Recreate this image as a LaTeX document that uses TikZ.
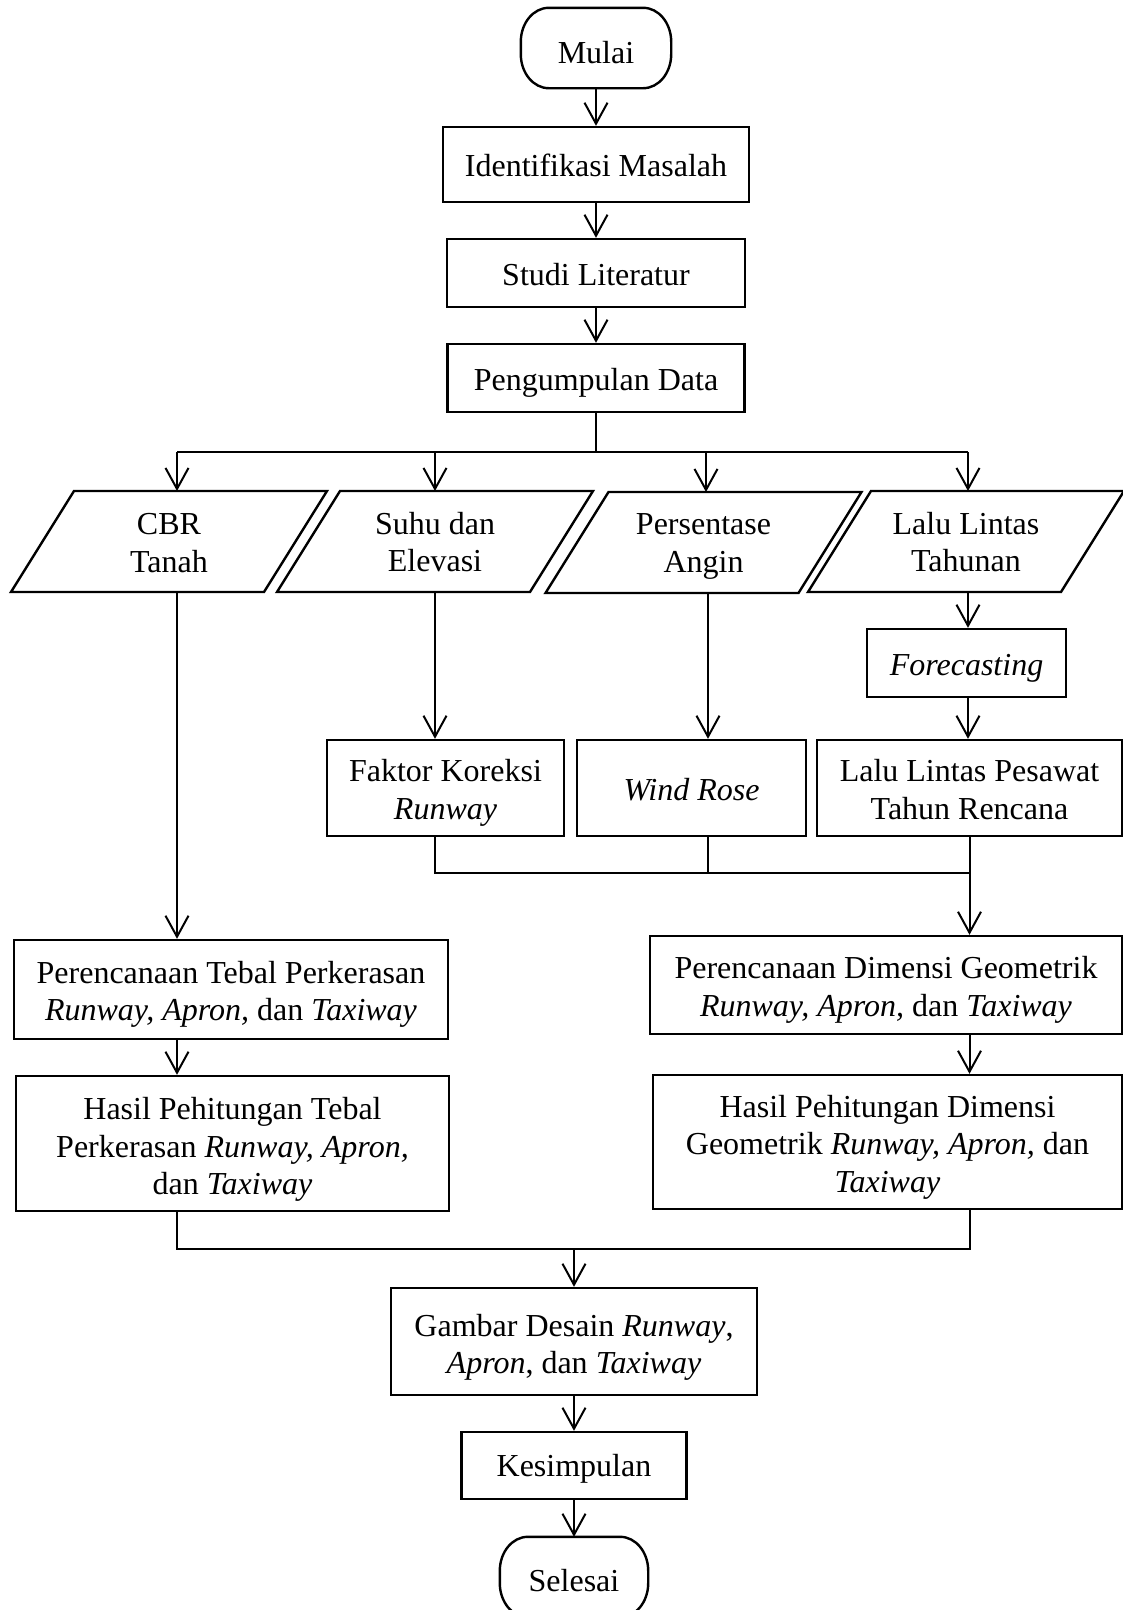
\documentclass[tikz,border=0pt]{standalone}
\usepackage{fontspec}
\setmainfont{Liberation Serif}
\usetikzlibrary{arrows.meta}
\newcommand\flowfont{\fontsize{32}{37.5}\selectfont}
% box node plus its text: style, name, x, y, width, height, text drop, text
\newcommand\flowbox[8]{%
  \node[#1,minimum width=#5pt,minimum height=#6pt] (#2) at (#3,#4) {};
  \node[txt] (#2-t) at ([yshift=-#7pt]#2.center) {#8};}
% start/end outline with elliptic corners
\newcommand\termoutline[1]{%
  \draw[outline] ([xshift=28pt]#1.north west) -- ([xshift=-28pt]#1.north east)
    arc[start angle=90,end angle=0,x radius=28pt,y radius=34pt]
    -- ([yshift=34pt]#1.south east)
    arc[start angle=0,end angle=-90,x radius=28pt,y radius=34pt]
    -- ([xshift=28pt]#1.south west)
    arc[start angle=270,end angle=180,x radius=28pt,y radius=34pt]
    -- ([yshift=-34pt]#1.north west)
    arc[start angle=180,end angle=90,x radius=28pt,y radius=34pt] -- cycle;}
\begin{document}
\begin{tikzpicture}[x=1pt,y=-1pt,
  box/.style={draw,line width=2.4pt,inner sep=0pt},
  term/.style={inner sep=0pt},
  txt/.style={inner sep=0pt,align=center,font=\flowfont},
  outline/.style={draw,line width=2.4pt,line join=miter},
  conn/.style={line width=2pt},
  arr/.style={conn,-{Straight Barb[length=21pt,width=23pt]}}]
\useasboundingbox (0,0) rectangle (1123,1610);

% main chain
\flowbox{term}{mulai}{596}{48}{150}{80}{5}{Mulai}
\termoutline{mulai}
\flowbox{box}{ident}{596}{164.5}{306}{75}{1}{Identifikasi Masalah}
\flowbox{box}{studi}{596}{273}{298}{68}{2}{Studi Literatur}
\flowbox{box}{data}{596}{378}{297}{68}{5}{Pengumpulan Data}

% input parallelograms
\node[txt] (cbr) at (169,543) {CBR\\Tanah};
\node[txt] (suhu) at (435,542) {Suhu dan\\Elevasi};
\node[txt] (per) at (703.5,546.5) {Persentase\\Angin};
\node[txt] (lal) at (966,542) {Lalu Lintas\\Tahunan};
\draw[outline] (cbr.center) ++(-95,-52) -- ++(253,0) -- ++(-63,101) -- ++(-253,0) -- cycle;
\draw[outline] (suhu.center) ++(-95,-51) -- ++(253,0) -- ++(-63,101) -- ++(-253,0) -- cycle;
\draw[outline] (per.center) ++(-95,-54.5) -- ++(253,0) -- ++(-63,101) -- ++(-253,0) -- cycle;
\draw[outline] (lal.center) ++(-95,-51) -- ++(253,0) -- ++(-63,101) -- ++(-253,0) -- cycle;

\coordinate (cbrT) at (177,491);
\coordinate (suhuT) at (435,491);
\coordinate (perT) at (706,492);
\coordinate (lalT) at (968,491);
\coordinate (cbrB) at (177,592);
\coordinate (suhuB) at (435,592);
\coordinate (perB) at (708,593);
\coordinate (lalB) at (968,592);

% processing boxes
\flowbox{box}{fore}{966.5}{663}{199}{68}{5}{\textit{Forecasting}}
\flowbox{box}{faktor}{445.5}{788}{237}{96}{5}{Faktor Koreksi\\\textit{Runway}}
\flowbox{box}{wind}{691.5}{788}{229}{96}{2}{\textit{Wind Rose}}
\flowbox{box}{laluP}{969.5}{788}{305}{96}{1.5}{Lalu Lintas Pesawat\\Tahun Rencana}

\flowbox{box}{ptebal}{231}{989.5}{434}{99}{5}
  {Perencanaan Tebal Perkerasan\\\textit{Runway, Apron,} dan \textit{Taxiway}}
\flowbox{box}{htebal}{232.5}{1143.5}{433}{135}{6}
  {Hasil Pehitungan Tebal\\Perkerasan \textit{Runway, Apron,}\\dan \textit{Taxiway}}
\flowbox{box}{pdim}{886}{985}{472}{98}{5}
  {Perencanaan Dimensi Geometrik\\\textit{Runway, Apron,} dan \textit{Taxiway}}
\flowbox{box}{hdim}{887.5}{1142}{469}{134}{5}
  {Hasil Pehitungan Dimensi\\Geometrik \textit{Runway, Apron,} dan\\\textit{Taxiway}}

\flowbox{box}{gambar}{574}{1341.5}{366}{107}{6}
  {Gambar Desain \textit{Runway},\\\textit{Apron}, dan \textit{Taxiway}}
\flowbox{box}{kes}{574}{1465.5}{225}{67}{3}{Kesimpulan}
\flowbox{term}{selesai}{574}{1577}{148}{80}{4}{Selesai}
\termoutline{selesai}

% connectors: top chain
\draw[arr] (mulai) -- (ident);
\draw[arr] (ident) -- (studi);
\draw[arr] (studi) -- (data);
\coordinate (split) at (596,452);
\draw[conn] (data.south) -- (split);
\draw[conn] (cbrT |- split) -- (lalT |- split);
\foreach \n in {cbrT,suhuT,perT,lalT}
  \draw[arr] (\n |- split) -- (\n);

% connectors: inputs to processing
\draw[arr] (suhuB) -- (suhuB |- faktor.north);
\draw[arr] (perB) -- (perB |- wind.north);
\draw[arr] (lalB) -- (lalB |- fore.north);
\draw[arr] (fore.south -| lalB) -- (lalB |- laluP.north);

\coordinate (join1) at (969.5,873);
\draw[conn] (suhuB |- faktor.south) -- (suhuB |- join1) -- (join1);
\draw[conn] (perB |- wind.south) -- (perB |- join1);
\draw[conn] (join1 |- laluP.south) -- (join1);
\draw[arr] (join1) -- (join1 |- pdim.north);
\draw[arr] (cbrB) -- (cbrB |- ptebal.north);

\draw[arr] (cbrB |- ptebal.south) -- (cbrB |- htebal.north);
\draw[arr] (join1 |- pdim.south) -- (join1 |- hdim.north);

% connectors: results to end
\coordinate (join2) at (574,1249);
\draw[conn] (cbrB |- htebal.south) -- (cbrB |- join2) -- (join1 |- join2) -- (join1 |- hdim.south);
\draw[arr] (join2) -- (gambar.north);
\draw[arr] (gambar) -- (kes);
\draw[arr] (kes) -- (selesai);
\end{tikzpicture}
\end{document}
